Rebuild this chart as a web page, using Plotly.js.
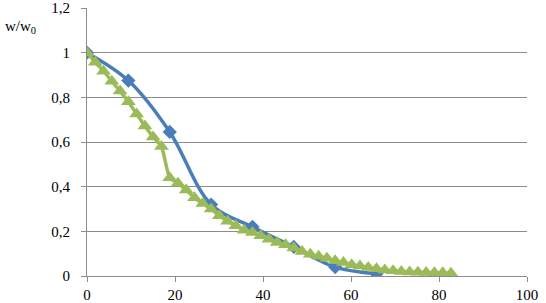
<!DOCTYPE html>
<html>
<head>
<meta charset="utf-8">
<script src="https://cdn.plot.ly/plotly-3.0.1.min.js"></script>
<style>html,body{margin:0;padding:0;background:#fff;}#chart{width:546px;height:303px;}</style>
</head>
<body>
<div id="chart"></div>
<script>
const blueX = [0, 9.4, 18.8, 28.2, 37.6, 47.0, 56.4, 65.8];
const blueY = [1.0, 0.875, 0.645, 0.32, 0.22, 0.13, 0.04, 0.01];

const greenX = [0, 1.88, 3.76, 5.64, 7.52, 9.4, 11.28, 13.16, 15.04, 16.92,
  18.8, 20.68, 22.56, 24.44, 26.32, 28.2, 30.08, 31.96, 33.84, 35.72,
  37.6, 39.48, 41.36, 43.24, 45.12, 47.0, 48.88, 50.76, 52.64, 54.52,
  56.4, 58.28, 60.16, 62.04, 63.92, 65.8, 67.68, 69.56, 71.44, 73.32,
  75.2, 77.08, 78.96, 80.84, 82.72];
const greenY = [1.0, 0.957, 0.917, 0.872, 0.828, 0.78, 0.725, 0.672, 0.622, 0.58,
  0.44, 0.415, 0.385, 0.35, 0.325, 0.30, 0.27, 0.245, 0.225, 0.205,
  0.195, 0.18, 0.165, 0.15, 0.14, 0.125, 0.11, 0.097, 0.088, 0.08,
  0.068, 0.06, 0.05, 0.045, 0.038, 0.032, 0.027, 0.023, 0.02, 0.018,
  0.017, 0.016, 0.015, 0.015, 0.012];

const xTicks = [0, 20, 40, 60, 80, 100];
const yTicks = [0, 0.2, 0.4, 0.6, 0.8, 1.0, 1.2];
const yTickLabels = ['0', '0,2', '0,4', '0,6', '0,8', '1', '1,2'];
const yTitle = 'w/w<sub>0</sub>';

const serif = 'Liberation Serif';

const traces = [
  {
    x: blueX, y: blueY, type: 'scatter', mode: 'lines+markers',
    line: {color: '#4A7EBB', width: 3.5, shape: 'spline', smoothing: 1},
    marker: {symbol: 'diamond', size: 11, color: '#4A7EBB'},
    showlegend: false
  },
  {
    x: greenX, y: greenY, type: 'scatter', mode: 'lines+markers',
    line: {color: '#9BBB59', width: 3.5, shape: 'spline', smoothing: 0.6},
    marker: {symbol: 'triangle-up', size: 13, color: '#9BBB59'},
    showlegend: false
  }
];

const layout = {
  width: 546, height: 303,
  margin: {l: 87, r: 19, t: 8, b: 27},
  paper_bgcolor: '#fff', plot_bgcolor: '#fff',
  separators: ', ',
  font: {family: serif, size: 15, color: '#000'},
  xaxis: {
    range: [0, 100], tickvals: xTicks, showgrid: false, zeroline: false,
    showline: true, linecolor: '#8c8c8c', linewidth: 1,
    ticks: 'outside', ticklen: 5, tickcolor: '#8c8c8c',
    tickfont: {family: serif, size: 15, color: '#000'}, fixedrange: true
  },
  yaxis: {
    range: [0, 1.2], tickvals: yTicks, ticktext: yTickLabels,
    showgrid: true, gridcolor: '#8c8c8c', gridwidth: 1,
    zeroline: false, showline: true, linecolor: '#8c8c8c', linewidth: 1,
    ticks: 'outside', ticklen: 5, tickcolor: '#8c8c8c', ticklabelstandoff: 8,
    tickfont: {family: serif, size: 15, color: '#000'}, fixedrange: true
  },
  annotations: [{
    text: yTitle, xref: 'paper', yref: 'paper', x: -0.19, y: 0.93,
    xanchor: 'left', yanchor: 'middle', showarrow: false,
    font: {family: serif, size: 15, color: '#000'}
  }]
};

Plotly.newPlot('chart', traces, layout, {displayModeBar: false, staticPlot: true});
</script>
</body>
</html>
